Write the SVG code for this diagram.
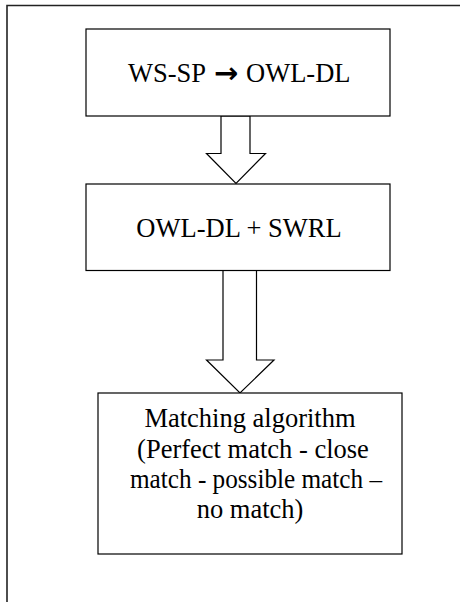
<svg xmlns="http://www.w3.org/2000/svg" width="460" height="602" viewBox="0 0 460 602">
<style>
.box{fill:#fff;stroke:#000;stroke-width:1.2}
.arrow{fill:#fff;stroke:#000;stroke-width:1.2;stroke-linejoin:miter}
.t{font-family:"Liberation Serif","Times New Roman",serif;font-size:26.5px;fill:#000;text-anchor:middle}
.ts{text-anchor:start}
.sym{font-family:"DejaVu Sans",sans-serif;font-weight:bold;font-size:29px}
.frame{fill:none;stroke:#222;stroke-width:1.6}
</style>
<rect width="460" height="602" fill="#fff"/>
<path class="frame" d="M7,602 V5.5 H460"/>
<g id="connectors">
<path class="arrow" d="M221,116 H250 V153.5 H265.5 L236,183.5 L206.5,153.5 H221 Z"/>
<path class="arrow" d="M223,270.5 H256.5 V360 H274 L240,393 L206.5,360 H223 Z"/>
</g>
<g id="node1">
<rect class="box" x="86" y="29" width="304" height="87"/>
<text class="t ts" x="128" y="82">WS-SP<tspan class="sym" x="214" y="83">→</tspan><tspan x="246" y="82">OWL-DL</tspan></text>
</g>
<g id="node2">
<rect class="box" x="86" y="184" width="304" height="86.5"/>
<text class="t" x="239" y="237">OWL-DL + SWRL</text>
</g>
<g id="node3">
<rect class="box" x="98" y="393" width="304" height="161"/>
<text class="t" x="250" y="427">Matching algorithm</text>
<text class="t" x="253" y="457.5">(Perfect match - close</text>
<text class="t" x="256" y="488" textLength="252" lengthAdjust="spacingAndGlyphs">match - possible match –</text>
<text class="t" x="250" y="518">no match)</text>
</g>
</svg>
